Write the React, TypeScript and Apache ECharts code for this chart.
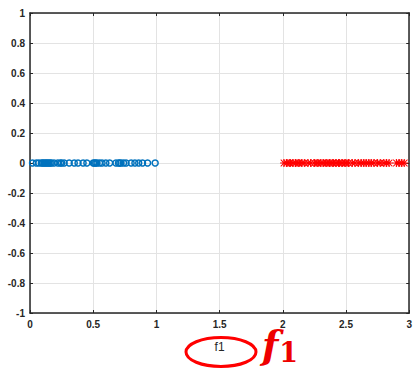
import React, { useEffect, useRef } from "react";
import * as echarts from "echarts";

const xTicks = ["0", "0.5", "1", "1.5", "2", "2.5", "3"];
const yTicks = ["-1", "-0.8", "-0.6", "-0.4", "-0.2", "0", "0.2", "0.4", "0.6", "0.8", "1"];

const class1X = [0.02, 0.05, 0.07, 0.09, 0.1, 0.11, 0.12, 0.13, 0.14, 0.15, 0.16, 0.17, 0.19, 0.22, 0.24, 0.25, 0.27, 0.31, 0.35, 0.38, 0.42, 0.45, 0.5, 0.51, 0.52, 0.53, 0.55, 0.57, 0.6, 0.63, 0.68, 0.7, 0.71, 0.72, 0.74, 0.76, 0.8, 0.83, 0.86, 0.89, 0.93, 0.99];
const class2X = [2.01, 2.03, 2.05, 2.06, 2.08, 2.1, 2.12, 2.13, 2.15, 2.17, 2.2, 2.22, 2.25, 2.27, 2.28, 2.3, 2.32, 2.34, 2.35, 2.37, 2.39, 2.4, 2.42, 2.44, 2.45, 2.47, 2.49, 2.5, 2.52, 2.55, 2.57, 2.6, 2.62, 2.64, 2.66, 2.68, 2.7, 2.72, 2.75, 2.77, 2.8, 2.82, 2.84, 2.9, 2.92, 2.94, 2.96];
const classY = 0;

const asterisk =
  "path://M0,4.4 L10,4.4 L10,5.6 L0,5.6 Z M4.4,0 L5.6,0 L5.6,10 L4.4,10 Z M1.2,0.4 L9.6,8.8 L8.8,9.6 L0.4,1.2 Z M8.8,0.4 L9.6,1.2 L1.2,9.6 L0.4,8.8 Z";

export default function App() {
  const ref = useRef<HTMLDivElement>(null);
  useEffect(() => {
    const chart = echarts.init(ref.current!, undefined, { renderer: "svg" });
    const labelStyle = { color: "#262626", fontSize: 10, fontFamily: "Liberation Sans, Arial, sans-serif", fontWeight: "bold" as const };
    const gridLine = { show: true, lineStyle: { color: "#e3e3e3", width: 1 } };
    chart.setOption({
      animation: false,
      backgroundColor: "#ffffff",
      grid: { left: 30, right: 4, top: 13, bottom: 61 },
      xAxis: [
        {
          type: "value", min: 0, max: 3, interval: 0.5,
          axisLine: { show: true, onZero: false, lineStyle: { color: "#262626", width: 1.5 } },
          axisTick: { show: true, inside: true, length: 3, lineStyle: { color: "#262626" } },
          axisLabel: { ...labelStyle, margin: 6, formatter: (v: number) => xTicks[Math.round(v * 2)] ?? "" },
          splitLine: gridLine,
          name: "f1", nameLocation: "middle", nameGap: 28,
          nameTextStyle: { color: "#262626", fontSize: 12, fontFamily: "Liberation Sans, Arial, sans-serif" },
        },
        {
          type: "value", min: 0, max: 3, interval: 0.5, position: "top",
          axisLine: { show: true, onZero: false, lineStyle: { color: "#262626", width: 1.5 } },
          axisTick: { show: true, inside: true, length: 3, lineStyle: { color: "#262626" } },
          axisLabel: { show: false }, splitLine: { show: false },
        },
      ],
      yAxis: [
        {
          type: "value", min: -1, max: 1, interval: 0.2,
          axisLine: { show: true, onZero: false, lineStyle: { color: "#262626", width: 1.5 } },
          axisTick: { show: true, inside: true, length: 3, lineStyle: { color: "#262626" } },
          axisLabel: { ...labelStyle, margin: 5, formatter: (v: number) => yTicks[Math.round((v + 1) * 5)] ?? "" },
          splitLine: gridLine,
        },
        {
          type: "value", min: -1, max: 1, interval: 0.2, position: "right",
          axisLine: { show: true, onZero: false, lineStyle: { color: "#262626", width: 1.5 } },
          axisTick: { show: true, inside: true, length: 3, lineStyle: { color: "#262626" } },
          axisLabel: { show: false }, splitLine: { show: false },
        },
      ],
      series: [
        {
          type: "scatter", xAxisIndex: 0, yAxisIndex: 0,
          data: class1X.map((x) => [x, classY]),
          symbol: "circle", symbolSize: 6,
          itemStyle: { color: "rgba(255,255,255,0)", borderColor: "#0072BD", borderWidth: 1.5, opacity: 1 },
        },
        {
          type: "scatter", xAxisIndex: 0, yAxisIndex: 0,
          data: class2X.map((x) => [x, classY]),
          symbol: asterisk, symbolSize: 8,
          itemStyle: { color: "#ff0000", opacity: 1 },
        },
      ],
      graphic: [
        {
          type: "ellipse",
          shape: { cx: 221, cy: 352, rx: 35, ry: 14.5 },
          style: { fill: "none", stroke: "#ff0000", lineWidth: 3 },
        },
        {
          type: "text", x: 262, y: 324,
          style: {
            text: "{f|f}{s|1}",
            rich: {
              f: { fontSize: 38, lineHeight: 40, fontStyle: "italic", fontWeight: "bold", fontFamily: "DejaVu Serif, serif", fill: "#ee0000" },
              s: { fontSize: 27, lineHeight: 27, fontWeight: "bold", fontFamily: "DejaVu Serif, serif", fill: "#ee0000", padding: [16, 0, 0, 1] },
            },
          },
        },
      ],
    });
    return () => chart.dispose();
  }, []);
  return <div ref={ref} style={{ position: "fixed", left: 0, top: 0, width: 415, height: 374 }} />;
}
